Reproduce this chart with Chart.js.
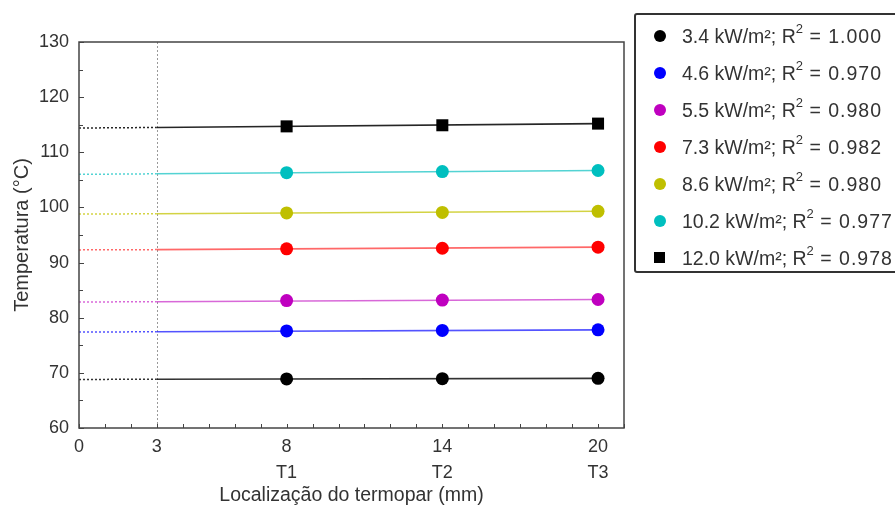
<!DOCTYPE html>
<html>
<head>
<meta charset="utf-8">
<script src="https://cdn.jsdelivr.net/npm/chart.js@4.4.1/dist/chart.umd.min.js"></script>
<style>
  html, body { margin: 0; padding: 0; background: #fff; overflow: hidden; }
  #wrap { position: relative; width: 895px; height: 508px; }
  #c { position: absolute; left: 0; top: 0; }
  #legend { position: absolute; left: 634px; top: 13px; width: 300px; height: 260px;
    border: 2px solid #333; border-radius: 3px; box-sizing: border-box;
    font-family: "Liberation Sans", Arial, sans-serif; font-size: 19.5px; color: #333; }
  .item { position: absolute; left: 0; height: 24px; line-height: 24px; white-space: nowrap; }
  .mk { position: absolute; left: 18px; top: 6px; width: 12px; height: 12px; border-radius: 50%; }
  .mk.sq { border-radius: 0; width: 11px; height: 11px; top: 6px; }
  .tx { position: absolute; left: 46px; top: 0; }
  .eq { letter-spacing: 1px; }
  sup { font-size: 13px; position: relative; top: -3px; vertical-align: super; line-height: 0; letter-spacing: 0; }
</style>
</head>
<body>
<div id="wrap">
  <canvas id="c" width="895" height="508"></canvas>
  <div id="legend"></div>
</div>
<script>
// ---- data ----
const fluxLabels = ['3.4 kW/m²', '4.6 kW/m²', '5.5 kW/m²', '7.3 kW/m²', '8.6 kW/m²', '10.2 kW/m²', '12.0 kW/m²'];
const r2Labels = ['1.000', '0.970', '0.980', '0.982', '0.980', '0.977', '0.978'];
const positions = [8, 14, 20];
const positionNames = ['T1', 'T2', 'T3'];
const xTickValues = [0, 3, 8, 14, 20];
const yTickValues = [60, 70, 80, 90, 100, 110, 120, 130];
const temps34 = [68.9, 68.95, 69.0];
const temps46 = [77.6, 77.7, 77.8];
const temps55 = [83.1, 83.2, 83.3];
const temps73 = [92.5, 92.6, 92.8];
const temps86 = [99.0, 99.1, 99.3];
const temps102 = [106.3, 106.5, 106.7];
const temps120 = [114.7, 114.9, 115.2];
// regression line values read at x = 0, 3 and 20
const fitX = [0, 3, 20];
const fit34 = [68.8, 68.85, 69.0];
const fit46 = [77.4, 77.45, 77.8];
const fit55 = [82.85, 82.9, 83.3];
const fit73 = [92.3, 92.35, 92.8];
const fit86 = [98.8, 98.85, 99.3];
const fit102 = [106.0, 106.1, 106.7];
const fit120 = [114.4, 114.5, 115.2];

const seriesTemps = [temps34, temps46, temps55, temps73, temps86, temps102, temps120];
const seriesFits = [fit34, fit46, fit55, fit73, fit86, fit102, fit120];
const colors = ['#000000', '#0000ff', '#bf00bf', '#ff0000', '#bfbf00', '#00bfbf', '#000000'];
const lineColors = ['rgba(0,0,0,0.8)', 'rgba(40,40,255,0.8)', 'rgba(200,40,200,0.7)', 'rgba(255,40,40,0.7)', 'rgba(200,200,20,0.8)', 'rgba(40,200,200,0.8)', 'rgba(0,0,0,0.85)'];
const styles = ['circle', 'circle', 'circle', 'circle', 'circle', 'circle', 'rect'];

const FONT = '"Liberation Sans", Arial, sans-serif';
const TXT = '#333';

const datasets = [];
seriesTemps.forEach((t, i) => {
  const f = seriesFits[i];
  datasets.push({
    data: [{x: fitX[0], y: f[0]}, {x: fitX[1], y: f[1]}],
    borderColor: lineColors[i], borderWidth: 1.5, borderDash: [2, 2],
    pointRadius: 0, showLine: true, order: 3
  });
  datasets.push({
    data: [{x: fitX[1], y: f[1]}, {x: fitX[2], y: f[2]}],
    borderColor: lineColors[i], borderWidth: 1.6,
    pointRadius: 0, showLine: true, order: 2
  });
  datasets.push({
    data: positions.map((p, k) => ({x: p, y: t[k]})),
    showLine: false, pointStyle: styles[i],
    pointRadius: styles[i] === 'rect' ? 8.5 : 6.5,
    pointBackgroundColor: colors[i], pointBorderColor: colors[i], pointBorderWidth: 0,
    order: 1
  });
});

const frame = {
  id: 'frame',
  beforeDatasetsDraw(chart) {
    const {ctx, chartArea: a, scales: {x, y}} = chart;
    ctx.save();
    ctx.strokeStyle = '#999';
    ctx.lineWidth = 1;
    ctx.setLineDash([2, 2]);
    const px = Math.round(x.getPixelForValue(3)) + 0.5;
    ctx.beginPath(); ctx.moveTo(px, a.top); ctx.lineTo(px, a.bottom); ctx.stroke();
    ctx.restore();
  },
  afterDraw(chart) {
    const {ctx, chartArea: a, scales: {x, y}} = chart;
    ctx.save();
    ctx.strokeStyle = '#444';
    ctx.lineWidth = 1.5;
    ctx.strokeRect(a.left, a.top, a.right - a.left, a.bottom - a.top);
    ctx.lineWidth = 1;
    ctx.beginPath();
    for (let v = 60; v <= 130; v += 5) {
      const py = Math.round(y.getPixelForValue(v)) + 0.5;
      const len = v % 10 === 0 ? 5 : 4;
      ctx.moveTo(a.left, py); ctx.lineTo(a.left + len, py);
    }
    for (let v = 0; v <= 21; v += 1) {
      const px = Math.round(x.getPixelForValue(v)) + 0.5;
      ctx.moveTo(px, a.bottom); ctx.lineTo(px, a.bottom - 4);
    }
    ctx.stroke();
    ctx.restore();
  }
};

new Chart(document.getElementById('c'), {
  type: 'scatter',
  data: { datasets },
  options: {
    responsive: false, animation: false, devicePixelRatio: 1,
    layout: { padding: { left: 0, top: 42, right: 271, bottom: 0 } },
    plugins: { legend: { display: false }, tooltip: { enabled: false } },
    scales: {
      x: {
        type: 'linear', min: 0, max: 21,
        afterBuildTicks: s => { s.ticks = xTickValues.map(v => ({value: v})); },
        afterFit: s => { s.height = 80; },
        grid: { display: false, drawTicks: false },
        border: { display: false },
        ticks: {
          padding: 6, color: TXT, maxRotation: 0, autoSkip: false,
          font: { family: FONT, size: 18, lineHeight: 1.45 },
          callback: v => {
            const k = positions.indexOf(v);
            return k >= 0 ? [String(v), positionNames[k]] : String(v);
          }
        },
        title: { display: true, text: 'Localização do termopar (mm)', color: TXT,
          font: { family: FONT, size: 19.5 }, padding: { top: 0, bottom: 1 } }
      },
      y: {
        min: 60, max: 130,
        afterBuildTicks: s => { s.ticks = yTickValues.map(v => ({value: v})); },
        afterFit: s => { s.width = 79; },
        grid: { display: false, drawTicks: false },
        border: { display: false },
        ticks: { padding: 10, color: TXT, font: { family: FONT, size: 18 } },
        title: { display: true, text: 'Temperatura (°C)', color: TXT,
          font: { family: FONT, size: 20 }, padding: { top: 10, bottom: 0 } }
      }
    }
  },
  plugins: [frame]
});

// HTML legend (for superscript R²)
const lg = document.getElementById('legend');
fluxLabels.forEach((lab, i) => {
  const it = document.createElement('div');
  it.className = 'item';
  it.style.top = (9 + i * 37) + 'px';
  const mk = document.createElement('div');
  mk.className = 'mk' + (styles[i] === 'rect' ? ' sq' : '');
  mk.style.background = colors[i];
  const tx = document.createElement('div');
  tx.className = 'tx';
  tx.innerHTML = lab + '; R<sup>2</sup><span class="eq"> = ' + r2Labels[i] + '</span>';
  it.appendChild(mk); it.appendChild(tx);
  lg.appendChild(it);
});
</script>
</body>
</html>
